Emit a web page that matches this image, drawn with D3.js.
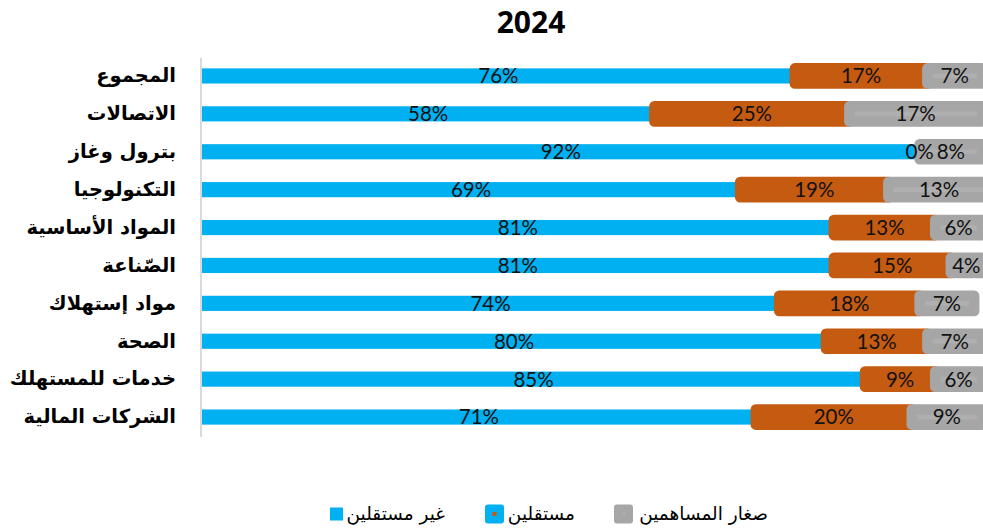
<!DOCTYPE html>
<html>
<head>
<meta charset="utf-8">
<script src="https://cdn.jsdelivr.net/npm/d3@7"></script>
<style>
  html, body { margin: 0; padding: 0; background: #ffffff; }
  svg { display: block; }
</style>
</head>
<body>
<div id="chart"></div>
<script>
  /* ── data ── */
  var categories = ['المجموع', 'الاتصالات', 'بترول وغاز', 'التكنولوجيا', 'المواد الأساسية',
                    'الصّناعة', 'مواد إستهلاك', 'الصحة', 'خدمات للمستهلك', 'الشركات المالية'];
  var nonIndependent = [76, 58, 92, 69, 81, 81, 74, 80, 85, 71];
  var independent    = [17, 25, 0, 19, 13, 15, 18, 13, 9, 20];
  var smallHolders   = [7, 17, 8, 13, 6, 4, 7, 7, 6, 9];
  var seriesNames = ['غير مستقلين', 'مستقلين', 'صغار المساهمين'];
  var title = '2024';

  var W = 983, H = 528;
  var BLUE = '#00B0F0', ORANGE = '#C55A11', GRAY = '#A6A6A6', GRAY_IN = '#AFAFAF';

  var svg = d3.select('#chart').append('svg')
    .attr('width', W).attr('height', H);

  /* title */
  svg.append('text')
    .attr('x', 531).attr('y', 33)
    .attr('text-anchor', 'middle')
    .attr('font-family', '"Open Sans", sans-serif')
    .attr('font-weight', 'bold')
    .attr('font-size', 30)
    .attr('fill', '#000')
    .text(title);

  /* scales */
  var x = d3.scaleLinear().domain([0, 100]).range([202, 982]);
  var y = d3.scaleBand().domain(categories).range([57, 436])
    .paddingInner(0.6).paddingOuter(0.3);

  /* stacked rows */
  var rows = categories.map(function (c, i) {
    var a = nonIndependent[i], b = independent[i], s = smallHolders[i];
    return [
      { cat: c, v: a, x0: 0, x1: a, fill: BLUE, stroke: null },
      { cat: c, v: b, x0: a, x1: a + b, fill: ORANGE, stroke: ORANGE },
      { cat: c, v: s, x0: a + b, x1: a + b + s, fill: GRAY_IN, stroke: GRAY }
    ];
  });
  var segs = d3.merge(rows);

  var barG = svg.append('g');
  barG.selectAll('rect')
    .data(segs.filter(function (d) { return d.v > 0; }))
    .join('rect')
    .attr('x', function (d) { return x(d.x0); })
    .attr('y', function (d) { return y(d.cat); })
    .attr('width', function (d) { return x(d.x1) - x(d.x0); })
    .attr('height', y.bandwidth())
    .attr('fill', function (d) { return d.fill; })
    .attr('stroke', function (d) { return d.stroke || 'none'; })
    .attr('stroke-width', 10.5)
    .attr('stroke-linejoin', 'round');

  /* value labels */
  svg.append('g').selectAll('text')
    .data(segs)
    .join('text')
    .attr('x', function (d) { return (x(d.x0) + x(d.x1)) / 2; })
    .attr('y', function (d) { return y(d.cat) + y.bandwidth() / 2; })
    .attr('dy', '0.36em')
    .attr('text-anchor', 'middle')
    .attr('font-family', 'Lato, sans-serif')
    .attr('font-size', 20.5)
    .attr('fill', '#111')
    .text(function (d) { return d.v + '%'; });

  /* category axis */
  var axis = svg.append('g')
    .attr('transform', 'translate(201,0)')
    .call(d3.axisLeft(y).tickSize(0).tickPadding(25));
  axis.select('.domain')
    .attr('stroke', '#D9D9D9')
    .attr('stroke-width', 2)
    .attr('d', 'M0,58V437');
  axis.selectAll('text')
    .attr('font-family', '"DejaVu Sans", sans-serif')
    .attr('font-weight', 'bold')
    .attr('font-size', 19.5)
    .attr('fill', '#000');

  /* legend */
  var legend = [
    { name: seriesNames[2], textX: 768, box: { x: 614, s: 19, fill: GRAY, r: 3, dot: GRAY_IN, ds: 3 } },
    { name: seriesNames[1], textX: 575, box: { x: 485, s: 19, fill: BLUE, r: 3, dot: ORANGE, ds: 4 } },
    { name: seriesNames[0], textX: 445, box: { x: 330, s: 13, fill: BLUE, r: 0, dot: null } }
  ];
  var ly = 514;
  var lg = svg.append('g');
  legend.forEach(function (l) {
    var b = l.box;
    lg.append('rect')
      .attr('x', b.x).attr('y', ly - b.s / 2)
      .attr('width', b.s).attr('height', b.s)
      .attr('rx', b.r)
      .attr('fill', b.fill);
    if (b.dot) {
      lg.append('rect')
        .attr('x', b.x + b.s / 2 - b.ds / 2).attr('y', ly - b.ds / 2)
        .attr('width', b.ds).attr('height', b.ds)
        .attr('fill', b.dot);
    }
    lg.append('text')
      .attr('x', l.textX).attr('y', ly)
      .attr('dy', '0.35em')
      .attr('text-anchor', 'end')
      .attr('font-family', '"DejaVu Sans", sans-serif')
      .attr('font-size', 18.5)
      .attr('fill', '#000')
      .text(l.name);
  });
</script>
</body>
</html>
